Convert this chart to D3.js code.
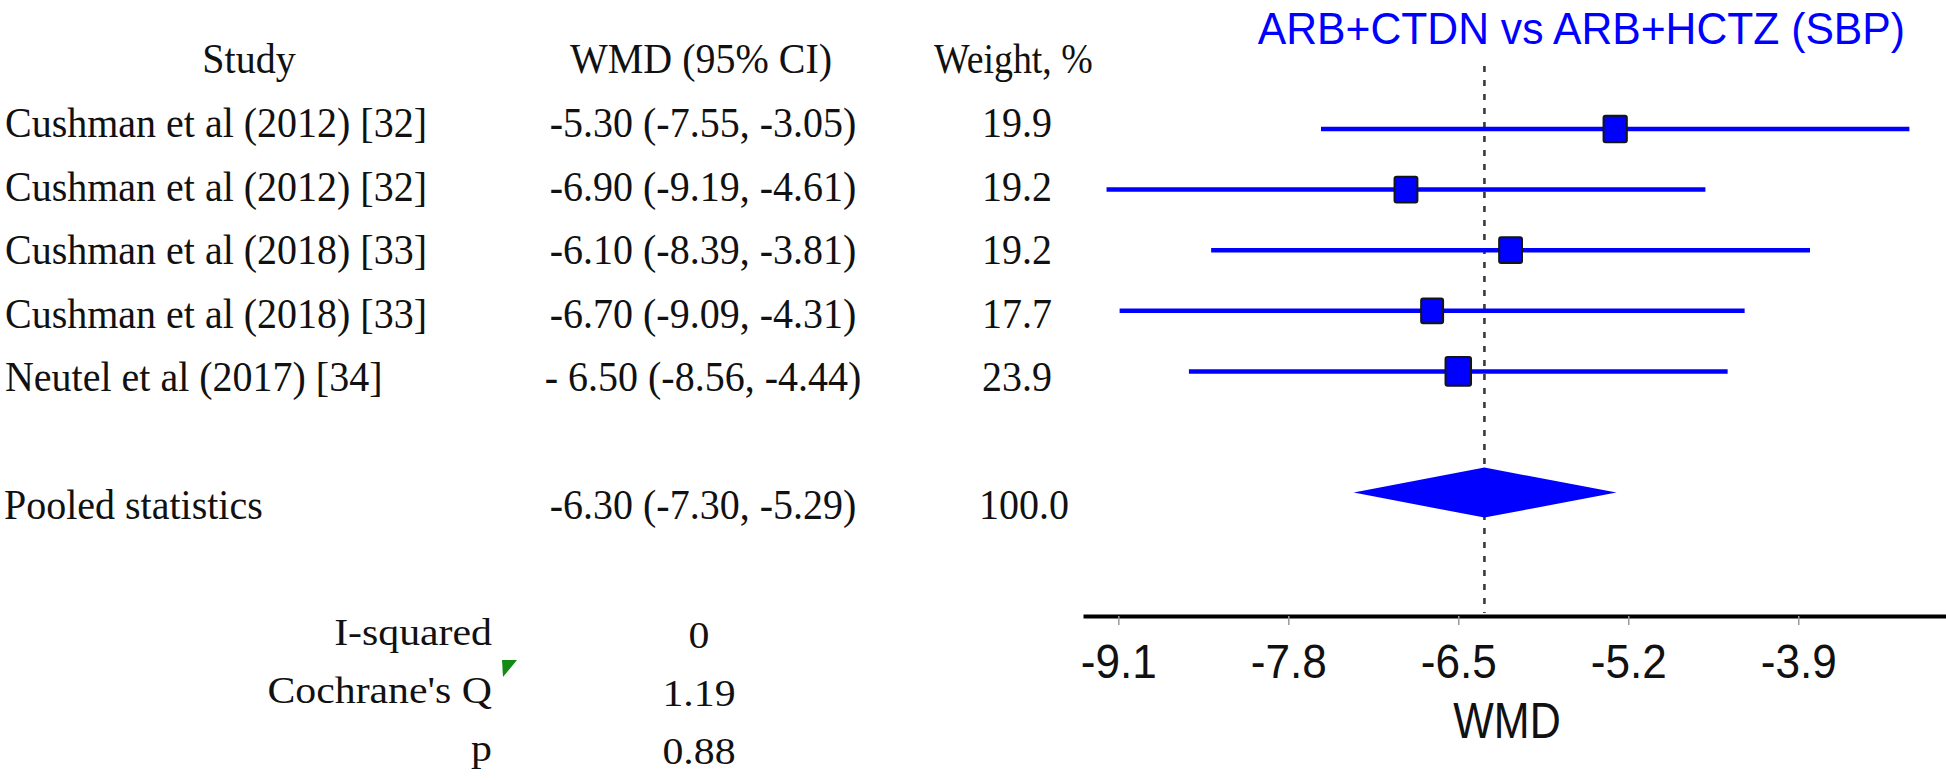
<!DOCTYPE html>
<html>
<head>
<meta charset="utf-8">
<script src="https://cdn.jsdelivr.net/npm/d3@7"></script>
<style>
  html, body { margin: 0; padding: 0; background: #fff; }
  svg { display: block; }
</style>
</head>
<body>
<svg id="chart" width="1946" height="781"></svg>
<script>
// ---------- data ----------
const headers = ["Study", "WMD (95% CI)", "Weight, %"];
const studies = [
  "Cushman et al (2012) [32]",
  "Cushman et al (2012) [32]",
  "Cushman et al (2018) [33]",
  "Cushman et al (2018) [33]",
  "Neutel et al (2017) [34]"
];
const wmd    = [-5.30, -6.90, -6.10, -6.70, -6.50];
const ciLow  = [-7.55, -9.19, -8.39, -9.09, -8.56];
const ciHigh = [-3.05, -4.61, -3.81, -4.31, -4.44];
const weights = [19.9, 19.2, 19.2, 17.7, 23.9];
const wmdLabels = [
  "-5.30 (-7.55, -3.05)",
  "-6.90 (-9.19, -4.61)",
  "-6.10 (-8.39, -3.81)",
  "-6.70 (-9.09, -4.31)",
  "- 6.50 (-8.56, -4.44)"
];
const weightLabels = ["19.9", "19.2", "19.2", "17.7", "23.9"];
const pooledName = "Pooled statistics";
const pooledValues = [-6.30, -7.30, -5.29];      // estimate, low, high
const pooledLabel = "-6.30 (-7.30, -5.29)";
const pooledWeight = "100.0";
const statLabels = ["I-squared", "Cochrane's Q", "p"];
const statValues = ["0", "1.19", "0.88"];
const xTicks = [-9.1, -7.8, -6.5, -5.2, -3.9];
const xTickLabels = ["-9.1", "-7.8", "-6.5", "-5.2", "-3.9"];
const xDomain = [-9.37, -2.77];
const chartTitle = "ARB+CTDN vs ARB+HCTZ (SBP)";
const axisTitle = "WMD";

// ---------- setup ----------
const svg = d3.select("#chart");
svg.append("rect").attr("width", 1946).attr("height", 781).attr("fill", "#fff");

const serif = "'Liberation Serif', 'Times New Roman', serif";
const sans = "'Liberation Sans', Arial, sans-serif";

function txt(parent, x, y, s, opt) {
  return parent.append("text")
    .attr("transform", `translate(${x},${y}) scale(${opt.sx || 1},1)`)
    .attr("text-anchor", opt.anchor || "start")
    .attr("font-family", opt.family || serif)
    .attr("font-size", opt.size || 43)
    .attr("fill", opt.fill || "#111")
    .text(s);
}

// scales
const x = d3.scaleLinear().domain(xDomain).range([1083, 1946]);
const yText = d3.scalePoint().domain(d3.range(8)).range([73.4, 518.6]);
const yPlot = d3.scalePoint().domain(d3.range(7)).range([129, 492.6]);
const sqW = d3.scaleSqrt().domain([0, d3.max(weights)]).range([0, 25.5]);

// ---------- left table ----------
const tbl = svg.append("g");
const tOpt = { size: 43, sx: 0.93 };
txt(tbl, 249, yText(0), headers[0], { ...tOpt, anchor: "middle" });
txt(tbl, 701, yText(0), headers[1], { ...tOpt, anchor: "middle" });
txt(tbl, 934, yText(0), headers[2], { ...tOpt, sx: 0.88 });

studies.forEach((s, i) => {
  txt(tbl, 5, yText(i + 1), s, tOpt);
  txt(tbl, 703, yText(i + 1), wmdLabels[i], { ...tOpt, anchor: "middle" });
  txt(tbl, 982, yText(i + 1), weightLabels[i], tOpt);
});
txt(tbl, 4, yText(7), pooledName, tOpt);
txt(tbl, 703, yText(7), pooledLabel, { ...tOpt, anchor: "middle" });
txt(tbl, 979, yText(7), pooledWeight, tOpt);

// heterogeneity stats
const statY = d3.scalePoint().domain(d3.range(3)).range([645, 761]);
const sOpt = { size: 38, sx: 1.1 };
statLabels.forEach((s, i) => {
  txt(tbl, 492, statY(i), s, { ...sOpt, anchor: "end" });
  txt(tbl, 699, statY(i) + 3, statValues[i], { ...sOpt, anchor: "middle" });
});
// small green comment marker
tbl.append("path")
  .attr("d", "M502,660 L517,660 L503,677 Z")
  .attr("fill", "#138a13");

// ---------- forest plot ----------
const plot = svg.append("g");

// title
txt(plot, 1905, 44, chartTitle, { family: sans, size: 44, sx: 0.97, anchor: "end", fill: "#0000ff" });

// reference dashed line at pooled estimate
plot.append("line")
  .attr("x1", x(pooledValues[0])).attr("x2", x(pooledValues[0]))
  .attr("y1", 66).attr("y2", 613)
  .attr("stroke", "#3a3a3a").attr("stroke-width", 2.6)
  .attr("stroke-dasharray", "6,8");

// CI lines
plot.selectAll("line.ci").data(wmd).join("line")
  .attr("class", "ci")
  .attr("x1", (d, i) => x(ciLow[i])).attr("x2", (d, i) => x(ciHigh[i]))
  .attr("y1", (d, i) => yPlot(i)).attr("y2", (d, i) => yPlot(i))
  .attr("stroke", "#0000ff").attr("stroke-width", 4.5);

// squares
plot.selectAll("rect.sq").data(wmd).join("rect")
  .attr("class", "sq")
  .attr("x", (d, i) => x(d) - sqW(weights[i]) / 2)
  .attr("y", (d, i) => yPlot(i) - sqW(weights[i]) * 1.13 / 2)
  .attr("width", (d, i) => sqW(weights[i]))
  .attr("height", (d, i) => sqW(weights[i]) * 1.13)
  .attr("rx", 2)
  .attr("fill", "#0000ff").attr("stroke", "#151515").attr("stroke-width", 2);

// pooled diamond
const py = yPlot(6);
plot.append("path")
  .attr("d", `M${x(pooledValues[1])},${py} L${x(pooledValues[0])},${py - 25} L${x(pooledValues[2])},${py} L${x(pooledValues[0])},${py + 25} Z`)
  .attr("fill", "#0000ff");

// axis
const axis = d3.axisBottom(x)
  .tickValues(xTicks)
  .tickFormat((d, i) => xTickLabels[i])
  .tickSize(9)
  .tickSizeOuter(0);
const ag = plot.append("g").attr("transform", "translate(0,616)").call(axis);
ag.select(".domain").attr("stroke", "#000").attr("stroke-width", 4);
ag.selectAll(".tick line").attr("stroke", "#9a9a9a").attr("stroke-width", 1.5);
ag.selectAll(".tick text")
  .attr("y", 0).attr("dy", null)
  .attr("transform", "translate(0,62) scale(0.92,1)")
  .attr("font-family", sans).attr("font-size", 48).attr("fill", "#111");

// axis title
txt(plot, 1507, 738, axisTitle, { family: sans, size: 50, sx: 0.86, anchor: "middle" });
</script>
</body>
</html>
